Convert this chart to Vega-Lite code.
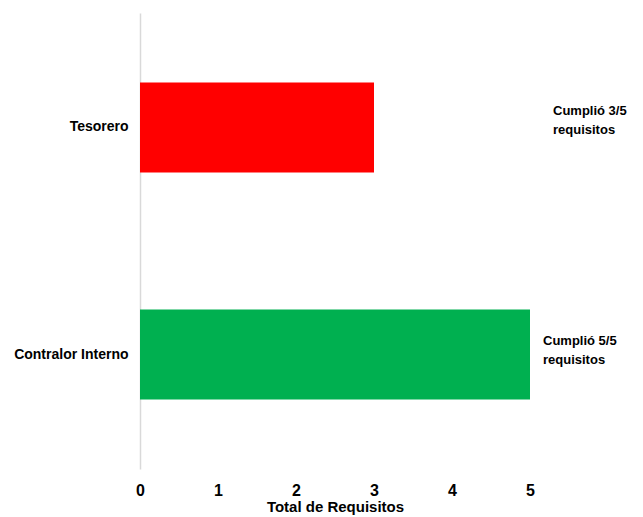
{
  "$schema": "https://vega.github.io/schema/vega-lite/v6.json",
  "width": 390,
  "height": 456,
  "autosize": {"type": "none"},
  "padding": {"left": 140, "top": 13, "right": 113, "bottom": 48},
  "background": "white",
  "config": {"view": {"stroke": null}, "font": "Liberation Sans"},
  "data": {"values": [
    {"cargo": "Tesorero", "total": 3, "color": "#FF0000", "label": "Cumplió 3/5\nrequisitos"},
    {"cargo": "Contralor Interno", "total": 5, "color": "#00B050", "label": "Cumplió 5/5\nrequisitos"}
  ]},
  "encoding": {
    "y": {
      "field": "cargo", "type": "nominal", "sort": ["Tesorero", "Contralor Interno"],
      "scale": {"paddingInner": 0.6035, "paddingOuter": 0.306},
      "axis": {"title": null, "ticks": false, "domainColor": "#d9d9d9", "domainWidth": 1.5,
               "labelFont": "Liberation Sans", "labelFontWeight": "bold", "labelFontSize": 14,
               "labelColor": "black", "labelPadding": 12}
    }
  },
  "layer": [
    {
      "mark": {"type": "bar"},
      "encoding": {
        "x": {"field": "total", "type": "quantitative", "scale": {"domain": [0, 5], "nice": false},
              "axis": {"values": [0,1,2,3,4,5], "format": "d", "grid": false, "domain": false, "ticks": false,
                       "labelFlush": false,
                       "labelFont": "Liberation Sans", "labelFontWeight": "bold", "labelFontSize": 16,
                       "labelColor": "black", "labelPadding": 13,
                       "title": "Total de Requisitos", "titleFont": "Liberation Sans", "titleFontWeight": "bold",
                       "titleFontSize": 15, "titleColor": "black", "titlePadding": 1}},
        "color": {"field": "color", "type": "nominal", "scale": null}
      }
    },
    {
      "transform": [{"filter": "datum.cargo == 'Tesorero'"}],
      "mark": {"type": "text", "align": "left", "baseline": "middle", "dx": 23, "dy": -16, "lineBreak": "\n",
               "lineHeight": 19, "fontSize": 13, "fontWeight": "bold", "font": "Liberation Sans", "color": "black"},
      "encoding": {"x": {"datum": 5, "type": "quantitative"}, "text": {"field": "label"}}
    },
    {
      "transform": [{"filter": "datum.cargo == 'Contralor Interno'"}],
      "mark": {"type": "text", "align": "left", "baseline": "middle", "dx": 13, "dy": -14, "lineBreak": "\n",
               "lineHeight": 19, "fontSize": 13, "fontWeight": "bold", "font": "Liberation Sans", "color": "black"},
      "encoding": {"x": {"datum": 5, "type": "quantitative"}, "text": {"field": "label"}}
    }
  ]
}
